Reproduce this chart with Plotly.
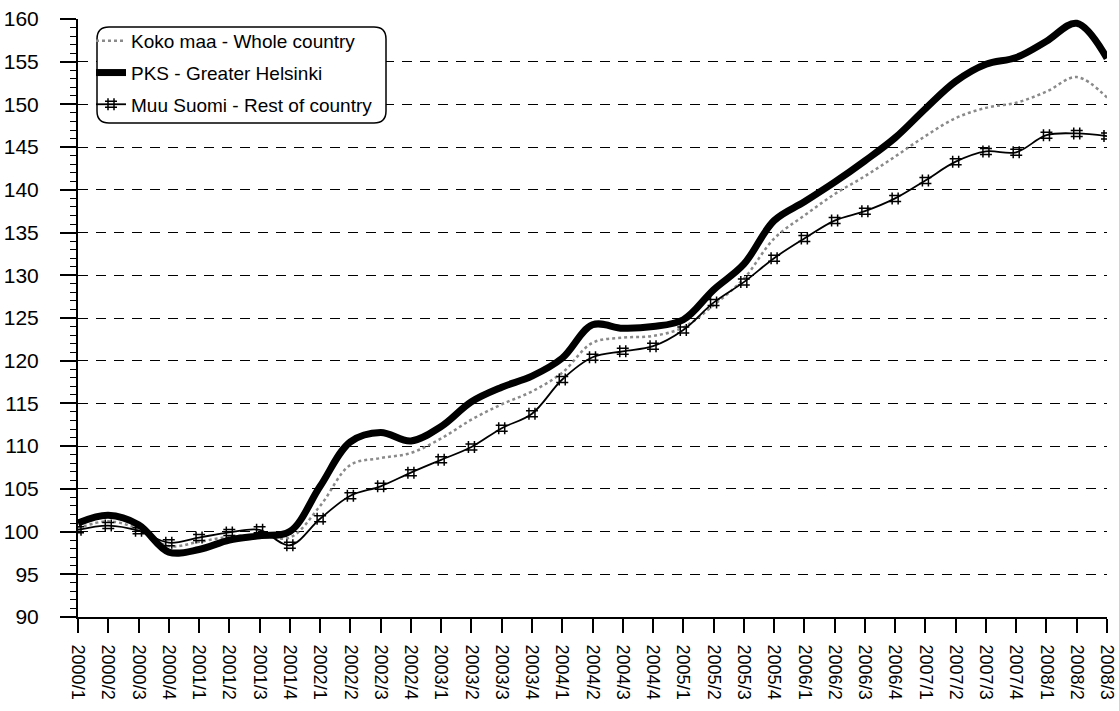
import plotly.graph_objects as go

quarters = ["2000/1","2000/2","2000/3","2000/4","2001/1","2001/2","2001/3","2001/4",
            "2002/1","2002/2","2002/3","2002/4","2003/1","2003/2","2003/3","2003/4",
            "2004/1","2004/2","2004/3","2004/4","2005/1","2005/2","2005/3","2005/4",
            "2006/1","2006/2","2006/3","2006/4","2007/1","2007/2","2007/3","2007/4",
            "2008/1","2008/2","2008/3"]

koko = [100.4, 101.2, 100.3, 98.3, 98.8, 99.4, 99.6, 99.3,
        103.0, 107.8, 108.6, 109.2, 110.9, 113.1, 114.9, 116.4,
        118.6, 122.1, 122.7, 122.9, 123.9, 126.5, 129.6, 134.3,
        137.0, 139.5, 141.6, 143.9, 146.3, 148.4, 149.6, 150.2,
        151.5, 153.2, 150.8]

pks = [101.0, 101.9, 100.8, 97.6, 97.9, 99.0, 99.5, 100.0,
       105.3, 110.5, 111.6, 110.6, 112.3, 115.2, 116.9, 118.2,
       120.3, 124.2, 123.8, 124.0, 124.8, 128.3, 131.3, 136.4,
       138.6, 140.9, 143.4, 146.1, 149.5, 152.7, 154.7, 155.5,
       157.4, 159.5, 155.4]

muu = [100.2, 100.7, 100.1, 98.7, 99.3, 99.9, 100.2, 98.4,
       101.5, 104.2, 105.3, 106.9, 108.4, 109.9, 112.1, 113.8,
       117.8, 120.4, 121.1, 121.7, 123.6, 126.8, 129.2, 132.0,
       134.3, 136.4, 137.5, 139.0, 141.1, 143.3, 144.5, 144.4,
       146.4, 146.6, 146.3]

names = ["Koko maa - Whole country", "PKS - Greater Helsinki", "Muu Suomi - Rest of country"]
y_ticks = list(range(90, 161, 5))

FONT = "Liberation Sans, Arial, Helvetica, sans-serif"
W, H = 1119, 711
L, R, T, B = 78, 12, 19, 94

fig = go.Figure()
fig.add_trace(go.Scatter(
    x=quarters, y=koko, name=names[0], mode="lines", legendgroup="a",
    line=dict(color="#8a8a8a", width=2.5, dash="dot", shape="spline", smoothing=1.0)))
fig.add_trace(go.Scatter(
    x=quarters, y=pks, name=names[1], mode="lines", legendgroup="b",
    line=dict(color="black", width=7, shape="spline", smoothing=1.0)))
fig.add_trace(go.Scatter(
    x=quarters, y=muu, name=names[2], mode="lines+markers", legendgroup="c",
    line=dict(color="black", width=1.8, shape="spline", smoothing=1.0),
    marker=dict(symbol="hash-open", size=12, color="black", line=dict(width=1.5, color="black"))))

# rounded legend frame in pixel coords -> paper coords
pw = W - L - R
ph = H - T - B
def px(xp):
    return (xp - L) / pw
def py(yp):
    return (H - B - yp) / ph

x0, x1, y0, y1, r = 97, 386, 27, 123, 12
path = (f"M {px(x0+r)},{py(y0)} L {px(x1-r)},{py(y0)} Q {px(x1)},{py(y0)} {px(x1)},{py(y0+r)} "
        f"L {px(x1)},{py(y1-r)} Q {px(x1)},{py(y1)} {px(x1-r)},{py(y1)} "
        f"L {px(x0+r)},{py(y1)} Q {px(x0)},{py(y1)} {px(x0)},{py(y1-r)} "
        f"L {px(x0)},{py(y0+r)} Q {px(x0)},{py(y0)} {px(x0+r)},{py(y0)} Z")

fig.update_layout(
    width=W, height=H,
    margin=dict(l=L, r=R, t=T, b=B, autoexpand=False),
    paper_bgcolor="white", plot_bgcolor="white",
    font=dict(family=FONT, size=17, color="black"),
    showlegend=True,
    legend=dict(x=px(91), y=py(22), xanchor="left", yanchor="top",
                bgcolor="rgba(0,0,0,0)", borderwidth=0,
                font=dict(family=FONT, size=19, color="black"),
                itemwidth=30, tracegroupgap=4, traceorder="grouped"),
    shapes=[dict(type="path", path=path, xref="paper", yref="paper",
                 line=dict(color="black", width=1.5), fillcolor="white", layer="above")],
)

fig.update_xaxes(
    type="category", range=[0, len(quarters) - 1], automargin=False,
    showgrid=False, showline=True, linecolor="black", linewidth=2,
    ticks="outside", ticklen=14, tickcolor="black", tickwidth=1.5,
    tickangle=90, tickfont=dict(family=FONT, size=18, color="black"),
    ticklabelstandoff=8,
    zeroline=False)

fig.update_yaxes(
    range=[90, 160], tickvals=y_ticks, automargin=False,
    showgrid=True, gridcolor="black", gridwidth=1, griddash="10px,8px",
    showline=True, linecolor="black", linewidth=2,
    ticks="outside", ticklen=16, tickcolor="black", tickwidth=1.5,
    minor=dict(dtick=1, ticks="outside", ticklen=6, tickcolor="black", tickwidth=1, showgrid=False),
    tickfont=dict(family=FONT, size=21, color="black"),
    ticklabelstandoff=17,
    zeroline=False)

fig.write_html("out.html")
